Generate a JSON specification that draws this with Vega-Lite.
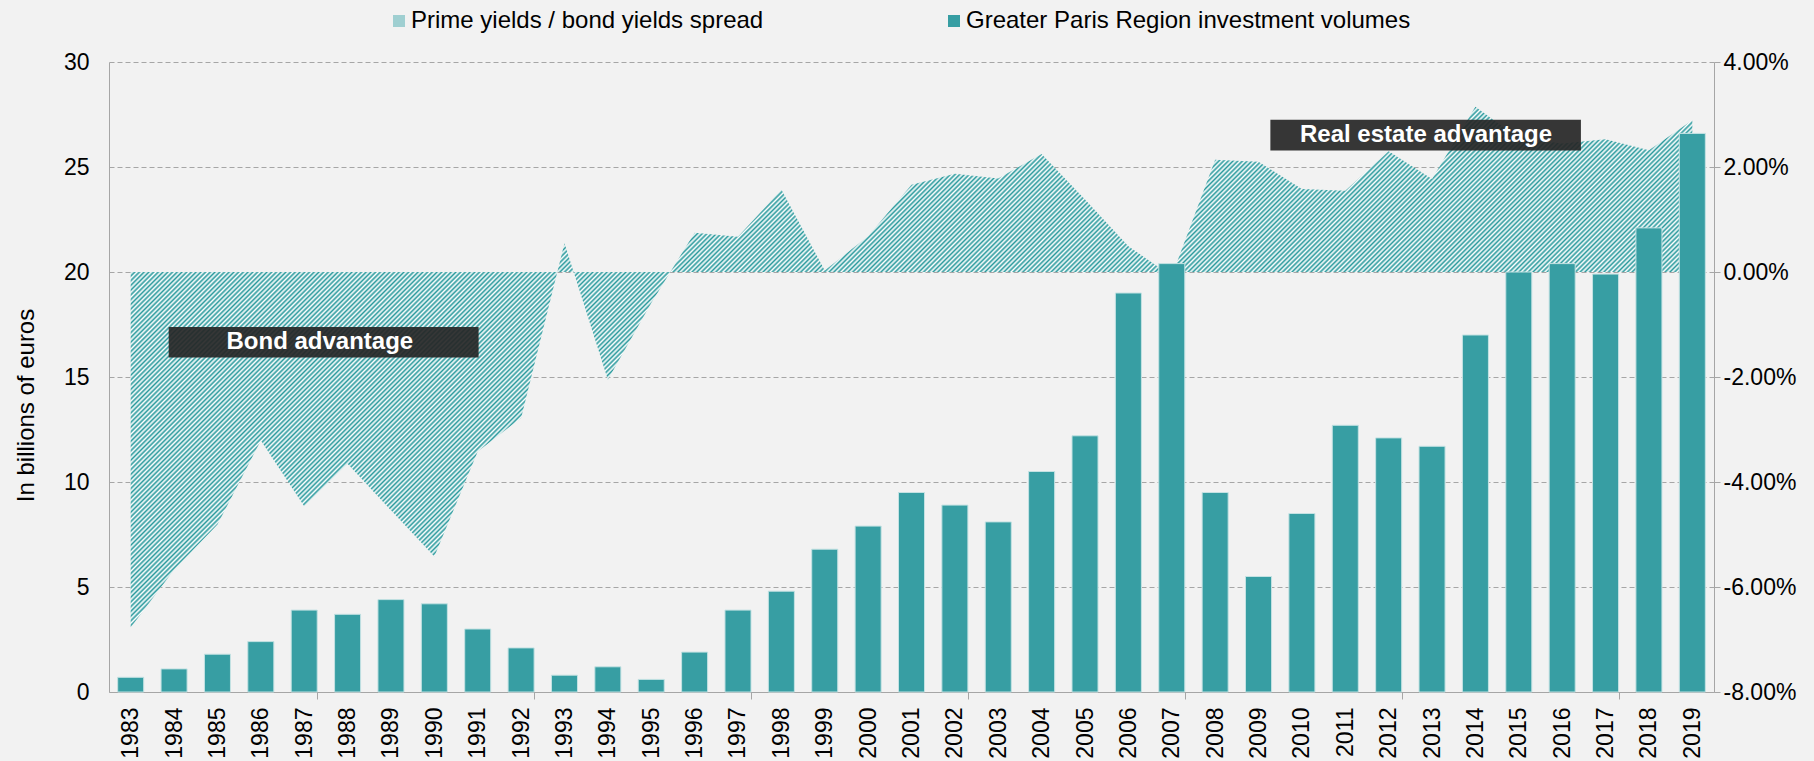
{
  "$schema": "https://vega.github.io/schema/vega-lite/v6.json",
  "width": 1605,
  "height": 630,
  "autosize": {"type": "none"},
  "padding": {"left": 109, "top": 62, "right": 100, "bottom": 69},
  "background": "#f2f2f2",
  "config": {
    "view": {"stroke": null},
    "font": "Liberation Sans",
    "locale": {"number": {"decimal": ".", "thousands": ",", "grouping": [3], "currency": ["$", ""], "minus": "-"}},
    "axis": {
      "labelFont": "Liberation Sans",
      "labelFontSize": 23,
      "labelColor": "#000000",
      "titleFont": "Liberation Sans",
      "titleFontSize": 24,
      "titleFontWeight": "normal",
      "titleColor": "#000000",
      "domainColor": "#a6a6a6",
      "tickColor": "#a6a6a6",
      "gridColor": "#a6a6a6",
      "gridDash": [5, 3]
    }
  },
  "data": {
    "values": [
      {"year": 1983, "volume": 0.7, "spread": -6.77},
      {"year": 1984, "volume": 1.1, "spread": -5.67},
      {"year": 1985, "volume": 1.8, "spread": -4.81},
      {"year": 1986, "volume": 2.4, "spread": -3.21},
      {"year": 1987, "volume": 3.9, "spread": -4.46},
      {"year": 1988, "volume": 3.7, "spread": -3.65},
      {"year": 1989, "volume": 4.4, "spread": -4.54},
      {"year": 1990, "volume": 4.2, "spread": -5.42},
      {"year": 1991, "volume": 3.0, "spread": -3.42},
      {"year": 1992, "volume": 2.1, "spread": -2.78},
      {"year": 1993, "volume": 0.8, "spread": 0.55},
      {"year": 1994, "volume": 1.2, "spread": -2.05},
      {"year": 1995, "volume": 0.6, "spread": -0.59},
      {"year": 1996, "volume": 1.9, "spread": 0.75},
      {"year": 1997, "volume": 3.9, "spread": 0.67},
      {"year": 1998, "volume": 4.8, "spread": 1.57},
      {"year": 1999, "volume": 6.8, "spread": 0.03},
      {"year": 2000, "volume": 7.9, "spread": 0.68},
      {"year": 2001, "volume": 9.5, "spread": 1.66},
      {"year": 2002, "volume": 8.9, "spread": 1.87},
      {"year": 2003, "volume": 8.1, "spread": 1.78},
      {"year": 2004, "volume": 10.5, "spread": 2.25},
      {"year": 2005, "volume": 12.2, "spread": 1.38},
      {"year": 2006, "volume": 19.0, "spread": 0.49},
      {"year": 2007, "volume": 20.4, "spread": -0.08},
      {"year": 2008, "volume": 9.5, "spread": 2.14},
      {"year": 2009, "volume": 5.5, "spread": 2.10},
      {"year": 2010, "volume": 8.5, "spread": 1.58},
      {"year": 2011, "volume": 12.7, "spread": 1.55},
      {"year": 2012, "volume": 12.1, "spread": 2.30},
      {"year": 2013, "volume": 11.7, "spread": 1.77},
      {"year": 2014, "volume": 17.0, "spread": 3.15},
      {"year": 2015, "volume": 20.0, "spread": 2.55},
      {"year": 2016, "volume": 20.4, "spread": 2.45},
      {"year": 2017, "volume": 19.9, "spread": 2.53},
      {"year": 2018, "volume": 22.1, "spread": 2.32},
      {"year": 2019, "volume": 26.6, "spread": 2.89}
    ]
  },
  "layer": [
    {
      "mark": {
        "type": "area",
        "opacity": 1,
        "fill": {
          "gradient": "linear",
          "x1": 0.0922, "y1": 0.0307, "x2": 0.9996, "y2": 0.3333,
          "stops": [
{"offset":0,"color":"#2b9a9d"},{"offset":0.0015,"color":"#fff"},{"offset":0.003,"color":"#2b9a9d"},{"offset":0.0045,"color":"#fff"},{"offset":0.006,"color":"#2b9a9d"},{"offset":0.0075,"color":"#fff"},{"offset":0.009,"color":"#2b9a9d"},{"offset":0.0105,"color":"#fff"},{"offset":0.012,"color":"#2b9a9d"},{"offset":0.0135,"color":"#fff"},{"offset":0.015,"color":"#2b9a9d"},{"offset":0.0165,"color":"#fff"},{"offset":0.018,"color":"#2b9a9d"},{"offset":0.0195,"color":"#fff"},{"offset":0.021,"color":"#2b9a9d"},{"offset":0.0225,"color":"#fff"},{"offset":0.024,"color":"#2b9a9d"},{"offset":0.0255,"color":"#fff"},{"offset":0.027,"color":"#2b9a9d"},{"offset":0.0285,"color":"#fff"},
{"offset":0.03,"color":"#2b9a9d"},{"offset":0.0315,"color":"#fff"},{"offset":0.033,"color":"#2b9a9d"},{"offset":0.0345,"color":"#fff"},{"offset":0.036,"color":"#2b9a9d"},{"offset":0.0375,"color":"#fff"},{"offset":0.039,"color":"#2b9a9d"},{"offset":0.0405,"color":"#fff"},{"offset":0.042,"color":"#2b9a9d"},{"offset":0.0435,"color":"#fff"},{"offset":0.045,"color":"#2b9a9d"},{"offset":0.0465,"color":"#fff"},{"offset":0.048,"color":"#2b9a9d"},{"offset":0.0495,"color":"#fff"},{"offset":0.051,"color":"#2b9a9d"},{"offset":0.0525,"color":"#fff"},{"offset":0.054,"color":"#2b9a9d"},{"offset":0.0555,"color":"#fff"},{"offset":0.057,"color":"#2b9a9d"},{"offset":0.0585,"color":"#fff"},
{"offset":0.06,"color":"#2b9a9d"},{"offset":0.0615,"color":"#fff"},{"offset":0.063,"color":"#2b9a9d"},{"offset":0.0645,"color":"#fff"},{"offset":0.066,"color":"#2b9a9d"},{"offset":0.0675,"color":"#fff"},{"offset":0.069,"color":"#2b9a9d"},{"offset":0.0705,"color":"#fff"},{"offset":0.072,"color":"#2b9a9d"},{"offset":0.0735,"color":"#fff"},{"offset":0.075,"color":"#2b9a9d"},{"offset":0.0765,"color":"#fff"},{"offset":0.078,"color":"#2b9a9d"},{"offset":0.0795,"color":"#fff"},{"offset":0.081,"color":"#2b9a9d"},{"offset":0.0825,"color":"#fff"},{"offset":0.084,"color":"#2b9a9d"},{"offset":0.0855,"color":"#fff"},{"offset":0.087,"color":"#2b9a9d"},{"offset":0.0885,"color":"#fff"},
{"offset":0.09,"color":"#2b9a9d"},{"offset":0.0915,"color":"#fff"},{"offset":0.093,"color":"#2b9a9d"},{"offset":0.0945,"color":"#fff"},{"offset":0.096,"color":"#2b9a9d"},{"offset":0.0975,"color":"#fff"},{"offset":0.099,"color":"#2b9a9d"},{"offset":0.1005,"color":"#fff"},{"offset":0.102,"color":"#2b9a9d"},{"offset":0.1035,"color":"#fff"},{"offset":0.105,"color":"#2b9a9d"},{"offset":0.1065,"color":"#fff"},{"offset":0.108,"color":"#2b9a9d"},{"offset":0.1095,"color":"#fff"},{"offset":0.111,"color":"#2b9a9d"},{"offset":0.1125,"color":"#fff"},{"offset":0.114,"color":"#2b9a9d"},{"offset":0.1155,"color":"#fff"},{"offset":0.117,"color":"#2b9a9d"},{"offset":0.1185,"color":"#fff"},
{"offset":0.12,"color":"#2b9a9d"},{"offset":0.1215,"color":"#fff"},{"offset":0.123,"color":"#2b9a9d"},{"offset":0.1245,"color":"#fff"},{"offset":0.126,"color":"#2b9a9d"},{"offset":0.1275,"color":"#fff"},{"offset":0.129,"color":"#2b9a9d"},{"offset":0.1305,"color":"#fff"},{"offset":0.132,"color":"#2b9a9d"},{"offset":0.1335,"color":"#fff"},{"offset":0.135,"color":"#2b9a9d"},{"offset":0.1365,"color":"#fff"},{"offset":0.138,"color":"#2b9a9d"},{"offset":0.1395,"color":"#fff"},{"offset":0.141,"color":"#2b9a9d"},{"offset":0.1425,"color":"#fff"},{"offset":0.144,"color":"#2b9a9d"},{"offset":0.1455,"color":"#fff"},{"offset":0.147,"color":"#2b9a9d"},{"offset":0.1485,"color":"#fff"},
{"offset":0.15,"color":"#2b9a9d"},{"offset":0.1515,"color":"#fff"},{"offset":0.153,"color":"#2b9a9d"},{"offset":0.1545,"color":"#fff"},{"offset":0.156,"color":"#2b9a9d"},{"offset":0.1575,"color":"#fff"},{"offset":0.159,"color":"#2b9a9d"},{"offset":0.1605,"color":"#fff"},{"offset":0.162,"color":"#2b9a9d"},{"offset":0.1635,"color":"#fff"},{"offset":0.165,"color":"#2b9a9d"},{"offset":0.1665,"color":"#fff"},{"offset":0.168,"color":"#2b9a9d"},{"offset":0.1695,"color":"#fff"},{"offset":0.171,"color":"#2b9a9d"},{"offset":0.1725,"color":"#fff"},{"offset":0.174,"color":"#2b9a9d"},{"offset":0.1755,"color":"#fff"},{"offset":0.177,"color":"#2b9a9d"},{"offset":0.1785,"color":"#fff"},
{"offset":0.18,"color":"#2b9a9d"},{"offset":0.1815,"color":"#fff"},{"offset":0.183,"color":"#2b9a9d"},{"offset":0.1845,"color":"#fff"},{"offset":0.186,"color":"#2b9a9d"},{"offset":0.1875,"color":"#fff"},{"offset":0.189,"color":"#2b9a9d"},{"offset":0.1905,"color":"#fff"},{"offset":0.192,"color":"#2b9a9d"},{"offset":0.1935,"color":"#fff"},{"offset":0.195,"color":"#2b9a9d"},{"offset":0.1965,"color":"#fff"},{"offset":0.198,"color":"#2b9a9d"},{"offset":0.1995,"color":"#fff"},{"offset":0.201,"color":"#2b9a9d"},{"offset":0.2025,"color":"#fff"},{"offset":0.204,"color":"#2b9a9d"},{"offset":0.2055,"color":"#fff"},{"offset":0.207,"color":"#2b9a9d"},{"offset":0.2085,"color":"#fff"},
{"offset":0.21,"color":"#2b9a9d"},{"offset":0.2115,"color":"#fff"},{"offset":0.213,"color":"#2b9a9d"},{"offset":0.2145,"color":"#fff"},{"offset":0.216,"color":"#2b9a9d"},{"offset":0.2175,"color":"#fff"},{"offset":0.219,"color":"#2b9a9d"},{"offset":0.2205,"color":"#fff"},{"offset":0.222,"color":"#2b9a9d"},{"offset":0.2235,"color":"#fff"},{"offset":0.225,"color":"#2b9a9d"},{"offset":0.2265,"color":"#fff"},{"offset":0.228,"color":"#2b9a9d"},{"offset":0.2295,"color":"#fff"},{"offset":0.231,"color":"#2b9a9d"},{"offset":0.2325,"color":"#fff"},{"offset":0.234,"color":"#2b9a9d"},{"offset":0.2355,"color":"#fff"},{"offset":0.237,"color":"#2b9a9d"},{"offset":0.2385,"color":"#fff"},
{"offset":0.24,"color":"#2b9a9d"},{"offset":0.2415,"color":"#fff"},{"offset":0.243,"color":"#2b9a9d"},{"offset":0.2445,"color":"#fff"},{"offset":0.246,"color":"#2b9a9d"},{"offset":0.2475,"color":"#fff"},{"offset":0.249,"color":"#2b9a9d"},{"offset":0.2505,"color":"#fff"},{"offset":0.252,"color":"#2b9a9d"},{"offset":0.2535,"color":"#fff"},{"offset":0.255,"color":"#2b9a9d"},{"offset":0.2565,"color":"#fff"},{"offset":0.258,"color":"#2b9a9d"},{"offset":0.2595,"color":"#fff"},{"offset":0.261,"color":"#2b9a9d"},{"offset":0.2625,"color":"#fff"},{"offset":0.264,"color":"#2b9a9d"},{"offset":0.2655,"color":"#fff"},{"offset":0.267,"color":"#2b9a9d"},{"offset":0.2685,"color":"#fff"},
{"offset":0.27,"color":"#2b9a9d"},{"offset":0.2715,"color":"#fff"},{"offset":0.273,"color":"#2b9a9d"},{"offset":0.2745,"color":"#fff"},{"offset":0.276,"color":"#2b9a9d"},{"offset":0.2775,"color":"#fff"},{"offset":0.279,"color":"#2b9a9d"},{"offset":0.2805,"color":"#fff"},{"offset":0.282,"color":"#2b9a9d"},{"offset":0.2835,"color":"#fff"},{"offset":0.285,"color":"#2b9a9d"},{"offset":0.2865,"color":"#fff"},{"offset":0.288,"color":"#2b9a9d"},{"offset":0.2895,"color":"#fff"},{"offset":0.291,"color":"#2b9a9d"},{"offset":0.2925,"color":"#fff"},{"offset":0.294,"color":"#2b9a9d"},{"offset":0.2955,"color":"#fff"},{"offset":0.297,"color":"#2b9a9d"},{"offset":0.2985,"color":"#fff"},
{"offset":0.3,"color":"#2b9a9d"},{"offset":0.3015,"color":"#fff"},{"offset":0.303,"color":"#2b9a9d"},{"offset":0.3045,"color":"#fff"},{"offset":0.306,"color":"#2b9a9d"},{"offset":0.3075,"color":"#fff"},{"offset":0.309,"color":"#2b9a9d"},{"offset":0.3105,"color":"#fff"},{"offset":0.312,"color":"#2b9a9d"},{"offset":0.3135,"color":"#fff"},{"offset":0.315,"color":"#2b9a9d"},{"offset":0.3165,"color":"#fff"},{"offset":0.318,"color":"#2b9a9d"},{"offset":0.3195,"color":"#fff"},{"offset":0.321,"color":"#2b9a9d"},{"offset":0.3225,"color":"#fff"},{"offset":0.324,"color":"#2b9a9d"},{"offset":0.3255,"color":"#fff"},{"offset":0.327,"color":"#2b9a9d"},{"offset":0.3285,"color":"#fff"},
{"offset":0.33,"color":"#2b9a9d"},{"offset":0.3315,"color":"#fff"},{"offset":0.333,"color":"#2b9a9d"},{"offset":0.3345,"color":"#fff"},{"offset":0.336,"color":"#2b9a9d"},{"offset":0.3375,"color":"#fff"},{"offset":0.339,"color":"#2b9a9d"},{"offset":0.3405,"color":"#fff"},{"offset":0.342,"color":"#2b9a9d"},{"offset":0.3435,"color":"#fff"},{"offset":0.345,"color":"#2b9a9d"},{"offset":0.3465,"color":"#fff"},{"offset":0.348,"color":"#2b9a9d"},{"offset":0.3495,"color":"#fff"},{"offset":0.351,"color":"#2b9a9d"},{"offset":0.3525,"color":"#fff"},{"offset":0.354,"color":"#2b9a9d"},{"offset":0.3555,"color":"#fff"},{"offset":0.357,"color":"#2b9a9d"},{"offset":0.3585,"color":"#fff"},
{"offset":0.36,"color":"#2b9a9d"},{"offset":0.3615,"color":"#fff"},{"offset":0.363,"color":"#2b9a9d"},{"offset":0.3645,"color":"#fff"},{"offset":0.366,"color":"#2b9a9d"},{"offset":0.3675,"color":"#fff"},{"offset":0.369,"color":"#2b9a9d"},{"offset":0.3705,"color":"#fff"},{"offset":0.372,"color":"#2b9a9d"},{"offset":0.3735,"color":"#fff"},{"offset":0.375,"color":"#2b9a9d"},{"offset":0.3765,"color":"#fff"},{"offset":0.378,"color":"#2b9a9d"},{"offset":0.3795,"color":"#fff"},{"offset":0.381,"color":"#2b9a9d"},{"offset":0.3825,"color":"#fff"},{"offset":0.384,"color":"#2b9a9d"},{"offset":0.3855,"color":"#fff"},{"offset":0.387,"color":"#2b9a9d"},{"offset":0.3885,"color":"#fff"},
{"offset":0.39,"color":"#2b9a9d"},{"offset":0.3915,"color":"#fff"},{"offset":0.393,"color":"#2b9a9d"},{"offset":0.3945,"color":"#fff"},{"offset":0.396,"color":"#2b9a9d"},{"offset":0.3975,"color":"#fff"},{"offset":0.399,"color":"#2b9a9d"},{"offset":0.4005,"color":"#fff"},{"offset":0.402,"color":"#2b9a9d"},{"offset":0.4035,"color":"#fff"},{"offset":0.405,"color":"#2b9a9d"},{"offset":0.4065,"color":"#fff"},{"offset":0.408,"color":"#2b9a9d"},{"offset":0.4095,"color":"#fff"},{"offset":0.411,"color":"#2b9a9d"},{"offset":0.4125,"color":"#fff"},{"offset":0.414,"color":"#2b9a9d"},{"offset":0.4155,"color":"#fff"},{"offset":0.417,"color":"#2b9a9d"},{"offset":0.4185,"color":"#fff"},
{"offset":0.42,"color":"#2b9a9d"},{"offset":0.4215,"color":"#fff"},{"offset":0.423,"color":"#2b9a9d"},{"offset":0.4245,"color":"#fff"},{"offset":0.426,"color":"#2b9a9d"},{"offset":0.4275,"color":"#fff"},{"offset":0.429,"color":"#2b9a9d"},{"offset":0.4305,"color":"#fff"},{"offset":0.432,"color":"#2b9a9d"},{"offset":0.4335,"color":"#fff"},{"offset":0.435,"color":"#2b9a9d"},{"offset":0.4365,"color":"#fff"},{"offset":0.438,"color":"#2b9a9d"},{"offset":0.4395,"color":"#fff"},{"offset":0.441,"color":"#2b9a9d"},{"offset":0.4425,"color":"#fff"},{"offset":0.444,"color":"#2b9a9d"},{"offset":0.4455,"color":"#fff"},{"offset":0.447,"color":"#2b9a9d"},{"offset":0.4485,"color":"#fff"},
{"offset":0.45,"color":"#2b9a9d"},{"offset":0.4515,"color":"#fff"},{"offset":0.453,"color":"#2b9a9d"},{"offset":0.4545,"color":"#fff"},{"offset":0.456,"color":"#2b9a9d"},{"offset":0.4575,"color":"#fff"},{"offset":0.459,"color":"#2b9a9d"},{"offset":0.4605,"color":"#fff"},{"offset":0.462,"color":"#2b9a9d"},{"offset":0.4635,"color":"#fff"},{"offset":0.465,"color":"#2b9a9d"},{"offset":0.4665,"color":"#fff"},{"offset":0.468,"color":"#2b9a9d"},{"offset":0.4695,"color":"#fff"},{"offset":0.471,"color":"#2b9a9d"},{"offset":0.4725,"color":"#fff"},{"offset":0.474,"color":"#2b9a9d"},{"offset":0.4755,"color":"#fff"},{"offset":0.477,"color":"#2b9a9d"},{"offset":0.4785,"color":"#fff"},
{"offset":0.48,"color":"#2b9a9d"},{"offset":0.4815,"color":"#fff"},{"offset":0.483,"color":"#2b9a9d"},{"offset":0.4845,"color":"#fff"},{"offset":0.486,"color":"#2b9a9d"},{"offset":0.4875,"color":"#fff"},{"offset":0.489,"color":"#2b9a9d"},{"offset":0.4905,"color":"#fff"},{"offset":0.492,"color":"#2b9a9d"},{"offset":0.4935,"color":"#fff"},{"offset":0.495,"color":"#2b9a9d"},{"offset":0.4965,"color":"#fff"},{"offset":0.498,"color":"#2b9a9d"},{"offset":0.4995,"color":"#fff"},{"offset":0.501,"color":"#2b9a9d"},{"offset":0.5025,"color":"#fff"},{"offset":0.504,"color":"#2b9a9d"},{"offset":0.5055,"color":"#fff"},{"offset":0.507,"color":"#2b9a9d"},{"offset":0.5085,"color":"#fff"},
{"offset":0.51,"color":"#2b9a9d"},{"offset":0.5115,"color":"#fff"},{"offset":0.513,"color":"#2b9a9d"},{"offset":0.5145,"color":"#fff"},{"offset":0.516,"color":"#2b9a9d"},{"offset":0.5175,"color":"#fff"},{"offset":0.519,"color":"#2b9a9d"},{"offset":0.5205,"color":"#fff"},{"offset":0.522,"color":"#2b9a9d"},{"offset":0.5235,"color":"#fff"},{"offset":0.525,"color":"#2b9a9d"},{"offset":0.5265,"color":"#fff"},{"offset":0.528,"color":"#2b9a9d"},{"offset":0.5295,"color":"#fff"},{"offset":0.531,"color":"#2b9a9d"},{"offset":0.5325,"color":"#fff"},{"offset":0.534,"color":"#2b9a9d"},{"offset":0.5355,"color":"#fff"},{"offset":0.537,"color":"#2b9a9d"},{"offset":0.5385,"color":"#fff"},
{"offset":0.54,"color":"#2b9a9d"},{"offset":0.5415,"color":"#fff"},{"offset":0.543,"color":"#2b9a9d"},{"offset":0.5445,"color":"#fff"},{"offset":0.546,"color":"#2b9a9d"},{"offset":0.5475,"color":"#fff"},{"offset":0.549,"color":"#2b9a9d"},{"offset":0.5505,"color":"#fff"},{"offset":0.552,"color":"#2b9a9d"},{"offset":0.5535,"color":"#fff"},{"offset":0.555,"color":"#2b9a9d"},{"offset":0.5565,"color":"#fff"},{"offset":0.558,"color":"#2b9a9d"},{"offset":0.5595,"color":"#fff"},{"offset":0.561,"color":"#2b9a9d"},{"offset":0.5625,"color":"#fff"},{"offset":0.564,"color":"#2b9a9d"},{"offset":0.5655,"color":"#fff"},{"offset":0.567,"color":"#2b9a9d"},{"offset":0.5685,"color":"#fff"},
{"offset":0.57,"color":"#2b9a9d"},{"offset":0.5715,"color":"#fff"},{"offset":0.573,"color":"#2b9a9d"},{"offset":0.5745,"color":"#fff"},{"offset":0.576,"color":"#2b9a9d"},{"offset":0.5775,"color":"#fff"},{"offset":0.579,"color":"#2b9a9d"},{"offset":0.5805,"color":"#fff"},{"offset":0.582,"color":"#2b9a9d"},{"offset":0.5835,"color":"#fff"},{"offset":0.585,"color":"#2b9a9d"},{"offset":0.5865,"color":"#fff"},{"offset":0.588,"color":"#2b9a9d"},{"offset":0.5895,"color":"#fff"},{"offset":0.591,"color":"#2b9a9d"},{"offset":0.5925,"color":"#fff"},{"offset":0.594,"color":"#2b9a9d"},{"offset":0.5955,"color":"#fff"},{"offset":0.597,"color":"#2b9a9d"},{"offset":0.5985,"color":"#fff"},
{"offset":0.6,"color":"#2b9a9d"},{"offset":0.6015,"color":"#fff"},{"offset":0.603,"color":"#2b9a9d"},{"offset":0.6045,"color":"#fff"},{"offset":0.606,"color":"#2b9a9d"},{"offset":0.6075,"color":"#fff"},{"offset":0.609,"color":"#2b9a9d"},{"offset":0.6105,"color":"#fff"},{"offset":0.612,"color":"#2b9a9d"},{"offset":0.6135,"color":"#fff"},{"offset":0.615,"color":"#2b9a9d"},{"offset":0.6165,"color":"#fff"},{"offset":0.618,"color":"#2b9a9d"},{"offset":0.6195,"color":"#fff"},{"offset":0.621,"color":"#2b9a9d"},{"offset":0.6225,"color":"#fff"},{"offset":0.624,"color":"#2b9a9d"},{"offset":0.6255,"color":"#fff"},{"offset":0.627,"color":"#2b9a9d"},{"offset":0.6285,"color":"#fff"},
{"offset":0.63,"color":"#2b9a9d"},{"offset":0.6315,"color":"#fff"},{"offset":0.633,"color":"#2b9a9d"},{"offset":0.6345,"color":"#fff"},{"offset":0.636,"color":"#2b9a9d"},{"offset":0.6375,"color":"#fff"},{"offset":0.639,"color":"#2b9a9d"},{"offset":0.6405,"color":"#fff"},{"offset":0.642,"color":"#2b9a9d"},{"offset":0.6435,"color":"#fff"},{"offset":0.645,"color":"#2b9a9d"},{"offset":0.6465,"color":"#fff"},{"offset":0.648,"color":"#2b9a9d"},{"offset":0.6495,"color":"#fff"},{"offset":0.651,"color":"#2b9a9d"},{"offset":0.6525,"color":"#fff"},{"offset":0.654,"color":"#2b9a9d"},{"offset":0.6555,"color":"#fff"},{"offset":0.657,"color":"#2b9a9d"},{"offset":0.6585,"color":"#fff"},
{"offset":0.66,"color":"#2b9a9d"},{"offset":0.6615,"color":"#fff"},{"offset":0.663,"color":"#2b9a9d"},{"offset":0.6645,"color":"#fff"},{"offset":0.666,"color":"#2b9a9d"},{"offset":0.6675,"color":"#fff"},{"offset":0.669,"color":"#2b9a9d"},{"offset":0.6705,"color":"#fff"},{"offset":0.672,"color":"#2b9a9d"},{"offset":0.6735,"color":"#fff"},{"offset":0.675,"color":"#2b9a9d"},{"offset":0.6765,"color":"#fff"},{"offset":0.678,"color":"#2b9a9d"},{"offset":0.6795,"color":"#fff"},{"offset":0.681,"color":"#2b9a9d"},{"offset":0.6825,"color":"#fff"},{"offset":0.684,"color":"#2b9a9d"},{"offset":0.6855,"color":"#fff"},{"offset":0.687,"color":"#2b9a9d"},{"offset":0.6885,"color":"#fff"},
{"offset":0.69,"color":"#2b9a9d"},{"offset":0.6915,"color":"#fff"},{"offset":0.693,"color":"#2b9a9d"},{"offset":0.6945,"color":"#fff"},{"offset":0.696,"color":"#2b9a9d"},{"offset":0.6975,"color":"#fff"},{"offset":0.699,"color":"#2b9a9d"},{"offset":0.7005,"color":"#fff"},{"offset":0.702,"color":"#2b9a9d"},{"offset":0.7035,"color":"#fff"},{"offset":0.705,"color":"#2b9a9d"},{"offset":0.7065,"color":"#fff"},{"offset":0.708,"color":"#2b9a9d"},{"offset":0.7095,"color":"#fff"},{"offset":0.711,"color":"#2b9a9d"},{"offset":0.7125,"color":"#fff"},{"offset":0.714,"color":"#2b9a9d"},{"offset":0.7155,"color":"#fff"},{"offset":0.717,"color":"#2b9a9d"},{"offset":0.7185,"color":"#fff"},
{"offset":0.72,"color":"#2b9a9d"},{"offset":0.7215,"color":"#fff"},{"offset":0.723,"color":"#2b9a9d"},{"offset":0.7245,"color":"#fff"},{"offset":0.726,"color":"#2b9a9d"},{"offset":0.7275,"color":"#fff"},{"offset":0.729,"color":"#2b9a9d"},{"offset":0.7305,"color":"#fff"},{"offset":0.732,"color":"#2b9a9d"},{"offset":0.7335,"color":"#fff"},{"offset":0.735,"color":"#2b9a9d"},{"offset":0.7365,"color":"#fff"},{"offset":0.738,"color":"#2b9a9d"},{"offset":0.7395,"color":"#fff"},{"offset":0.741,"color":"#2b9a9d"},{"offset":0.7425,"color":"#fff"},{"offset":0.744,"color":"#2b9a9d"},{"offset":0.7455,"color":"#fff"},{"offset":0.747,"color":"#2b9a9d"},{"offset":0.7485,"color":"#fff"},
{"offset":0.75,"color":"#2b9a9d"},{"offset":0.7515,"color":"#fff"},{"offset":0.753,"color":"#2b9a9d"},{"offset":0.7545,"color":"#fff"},{"offset":0.756,"color":"#2b9a9d"},{"offset":0.7575,"color":"#fff"},{"offset":0.759,"color":"#2b9a9d"},{"offset":0.7605,"color":"#fff"},{"offset":0.762,"color":"#2b9a9d"},{"offset":0.7635,"color":"#fff"},{"offset":0.765,"color":"#2b9a9d"},{"offset":0.7665,"color":"#fff"},{"offset":0.768,"color":"#2b9a9d"},{"offset":0.7695,"color":"#fff"},{"offset":0.771,"color":"#2b9a9d"},{"offset":0.7725,"color":"#fff"},{"offset":0.774,"color":"#2b9a9d"},{"offset":0.7755,"color":"#fff"},{"offset":0.777,"color":"#2b9a9d"},{"offset":0.7785,"color":"#fff"},
{"offset":0.78,"color":"#2b9a9d"},{"offset":0.7815,"color":"#fff"},{"offset":0.783,"color":"#2b9a9d"},{"offset":0.7845,"color":"#fff"},{"offset":0.786,"color":"#2b9a9d"},{"offset":0.7875,"color":"#fff"},{"offset":0.789,"color":"#2b9a9d"},{"offset":0.7905,"color":"#fff"},{"offset":0.792,"color":"#2b9a9d"},{"offset":0.7935,"color":"#fff"},{"offset":0.795,"color":"#2b9a9d"},{"offset":0.7965,"color":"#fff"},{"offset":0.798,"color":"#2b9a9d"},{"offset":0.7995,"color":"#fff"},{"offset":0.801,"color":"#2b9a9d"},{"offset":0.8025,"color":"#fff"},{"offset":0.804,"color":"#2b9a9d"},{"offset":0.8055,"color":"#fff"},{"offset":0.807,"color":"#2b9a9d"},{"offset":0.8085,"color":"#fff"},
{"offset":0.81,"color":"#2b9a9d"},{"offset":0.8115,"color":"#fff"},{"offset":0.813,"color":"#2b9a9d"},{"offset":0.8145,"color":"#fff"},{"offset":0.816,"color":"#2b9a9d"},{"offset":0.8175,"color":"#fff"},{"offset":0.819,"color":"#2b9a9d"},{"offset":0.8205,"color":"#fff"},{"offset":0.822,"color":"#2b9a9d"},{"offset":0.8235,"color":"#fff"},{"offset":0.825,"color":"#2b9a9d"},{"offset":0.8265,"color":"#fff"},{"offset":0.828,"color":"#2b9a9d"},{"offset":0.8295,"color":"#fff"},{"offset":0.831,"color":"#2b9a9d"},{"offset":0.8325,"color":"#fff"},{"offset":0.834,"color":"#2b9a9d"},{"offset":0.8355,"color":"#fff"},{"offset":0.837,"color":"#2b9a9d"},{"offset":0.8385,"color":"#fff"},
{"offset":0.84,"color":"#2b9a9d"},{"offset":0.8415,"color":"#fff"},{"offset":0.843,"color":"#2b9a9d"},{"offset":0.8445,"color":"#fff"},{"offset":0.846,"color":"#2b9a9d"},{"offset":0.8475,"color":"#fff"},{"offset":0.849,"color":"#2b9a9d"},{"offset":0.8505,"color":"#fff"},{"offset":0.852,"color":"#2b9a9d"},{"offset":0.8535,"color":"#fff"},{"offset":0.855,"color":"#2b9a9d"},{"offset":0.8565,"color":"#fff"},{"offset":0.858,"color":"#2b9a9d"},{"offset":0.8595,"color":"#fff"},{"offset":0.861,"color":"#2b9a9d"},{"offset":0.8625,"color":"#fff"},{"offset":0.864,"color":"#2b9a9d"},{"offset":0.8655,"color":"#fff"},{"offset":0.867,"color":"#2b9a9d"},{"offset":0.8685,"color":"#fff"},
{"offset":0.87,"color":"#2b9a9d"},{"offset":0.8715,"color":"#fff"},{"offset":0.873,"color":"#2b9a9d"},{"offset":0.8745,"color":"#fff"},{"offset":0.876,"color":"#2b9a9d"},{"offset":0.8775,"color":"#fff"},{"offset":0.879,"color":"#2b9a9d"},{"offset":0.8805,"color":"#fff"},{"offset":0.882,"color":"#2b9a9d"},{"offset":0.8835,"color":"#fff"},{"offset":0.885,"color":"#2b9a9d"},{"offset":0.8865,"color":"#fff"},{"offset":0.888,"color":"#2b9a9d"},{"offset":0.8895,"color":"#fff"},{"offset":0.891,"color":"#2b9a9d"},{"offset":0.8925,"color":"#fff"},{"offset":0.894,"color":"#2b9a9d"},{"offset":0.8955,"color":"#fff"},{"offset":0.897,"color":"#2b9a9d"},{"offset":0.8985,"color":"#fff"},
{"offset":0.9,"color":"#2b9a9d"},{"offset":0.9015,"color":"#fff"},{"offset":0.903,"color":"#2b9a9d"},{"offset":0.9045,"color":"#fff"},{"offset":0.906,"color":"#2b9a9d"},{"offset":0.9075,"color":"#fff"},{"offset":0.909,"color":"#2b9a9d"},{"offset":0.9105,"color":"#fff"},{"offset":0.912,"color":"#2b9a9d"},{"offset":0.9135,"color":"#fff"},{"offset":0.915,"color":"#2b9a9d"},{"offset":0.9165,"color":"#fff"},{"offset":0.918,"color":"#2b9a9d"},{"offset":0.9195,"color":"#fff"},{"offset":0.921,"color":"#2b9a9d"},{"offset":0.9225,"color":"#fff"},{"offset":0.924,"color":"#2b9a9d"},{"offset":0.9255,"color":"#fff"},{"offset":0.927,"color":"#2b9a9d"},{"offset":0.9285,"color":"#fff"},
{"offset":0.93,"color":"#2b9a9d"},{"offset":0.9315,"color":"#fff"},{"offset":0.933,"color":"#2b9a9d"},{"offset":0.9345,"color":"#fff"},{"offset":0.936,"color":"#2b9a9d"},{"offset":0.9375,"color":"#fff"},{"offset":0.939,"color":"#2b9a9d"},{"offset":0.9405,"color":"#fff"},{"offset":0.942,"color":"#2b9a9d"},{"offset":0.9435,"color":"#fff"},{"offset":0.945,"color":"#2b9a9d"},{"offset":0.9465,"color":"#fff"},{"offset":0.948,"color":"#2b9a9d"},{"offset":0.9495,"color":"#fff"},{"offset":0.951,"color":"#2b9a9d"},{"offset":0.9525,"color":"#fff"},{"offset":0.954,"color":"#2b9a9d"},{"offset":0.9555,"color":"#fff"},{"offset":0.957,"color":"#2b9a9d"},{"offset":0.9585,"color":"#fff"},
{"offset":0.96,"color":"#2b9a9d"},{"offset":0.9615,"color":"#fff"},{"offset":0.963,"color":"#2b9a9d"},{"offset":0.9645,"color":"#fff"},{"offset":0.966,"color":"#2b9a9d"},{"offset":0.9675,"color":"#fff"},{"offset":0.969,"color":"#2b9a9d"},{"offset":0.9705,"color":"#fff"},{"offset":0.972,"color":"#2b9a9d"},{"offset":0.9735,"color":"#fff"},{"offset":0.975,"color":"#2b9a9d"},{"offset":0.9765,"color":"#fff"},{"offset":0.978,"color":"#2b9a9d"},{"offset":0.9795,"color":"#fff"},{"offset":0.981,"color":"#2b9a9d"},{"offset":0.9825,"color":"#fff"},{"offset":0.984,"color":"#2b9a9d"},{"offset":0.9855,"color":"#fff"},{"offset":0.987,"color":"#2b9a9d"},{"offset":0.9885,"color":"#fff"},
{"offset":0.99,"color":"#2b9a9d"},{"offset":0.9915,"color":"#fff"},{"offset":0.993,"color":"#2b9a9d"},{"offset":0.9945,"color":"#fff"},{"offset":0.996,"color":"#2b9a9d"},{"offset":0.9975,"color":"#fff"},{"offset":0.999,"color":"#2b9a9d"}
          ]
        }
      },
      "encoding": {
        "x": {
          "field": "year",
          "type": "ordinal",
          "title": null,
          "scale": {"paddingInner": 0.4, "paddingOuter": 0.2},
          "axis": {
            "labelAngle": -90,
            "labelPadding": 8,
            "tickBand": "extent",
            "tickSize": 7,
            "tickOpacity": {"condition": {"test": "(datum.value - 1982) % 5 == 0", "value": 1}, "value": 0},
            "domainColor": "#a6a6a6"
          }
        },
        "y": {
          "field": "spread",
          "type": "quantitative",
          "scale": {"domain": [-8, 4], "nice": false},
          "axis": {
            "orient": "right",
            "title": null,
            "values": [-8, -6, -4, -2, 0, 2, 4],
            "labelExpr": "format(datum.value, '.2f') + '%'",
            "grid": false,
            "tickSize": 6,
            "labelPadding": 3
          }
        },
        "y2": {"datum": 0}
      }
    },
    {
      "layer": [
        {
          "mark": {"type": "bar", "stroke": "#c4e2e3", "strokeWidth": 1},
          "encoding": {
            "x": {"field": "year", "type": "ordinal", "title": null},
            "y": {
              "field": "volume",
              "type": "quantitative",
              "scale": {"domain": [0, 30], "nice": false},
              "axis": {
                "orient": "left",
                "title": "In billions of euros",
                "titleX": -83,
                "titleY": 343,
                "titleBaseline": "middle",
                "titleAlign": "center",
                "values": [0, 5, 10, 15, 20, 25, 30],
                "grid": true,
                "ticks": false,
                "tickSize": 0,
                "labelPadding": 20
              }
            },
            "color": {
              "datum": "Greater Paris Region investment volumes",
              "type": "nominal",
              "scale": {
                "domain": ["Prime yields / bond yields spread", "Greater Paris Region investment volumes"],
                "range": ["#9fcfd1", "#379ea3"]
              },
              "legend": {
                "title": null,
                "orient": "none",
                "legendX": 278,
                "legendY": -53,
                "direction": "horizontal",
                "columns": 2,
                "columnPadding": 178,
                "symbolType": "square",
                "symbolSize": 144,
                "symbolStrokeWidth": 0,
                "labelFont": "Liberation Sans",
                "labelFontSize": 24,
                "labelColor": "#000000",
                "labelOffset": 0,
                "labelLimit": 0,
                "padding": 0
              }
            }
          }
        },
        {
          "data": {"values": [{"label": "Bond advantage"}]},
          "mark": {"type": "rect", "fill": "#262626", "opacity": 0.92},
          "encoding": {
            "x": {"datum": 1984, "type": "ordinal", "bandPosition": 0.293},
            "x2": {"datum": 1991, "bandPosition": 0.534},
            "y": {"datum": 17.38, "type": "quantitative"},
            "y2": {"datum": 15.93}
          }
        },
        {
          "data": {"values": [{"label": "Bond advantage"}]},
          "mark": {"type": "text", "color": "#ffffff", "font": "Liberation Sans", "fontWeight": "bold", "fontSize": 24, "align": "center", "baseline": "middle"},
          "encoding": {
            "text": {"field": "label"},
            "x": {"datum": 1987, "type": "ordinal", "bandPosition": 1.1},
            "y": {"datum": 16.66, "type": "quantitative"}
          }
        },
        {
          "data": {"values": [{"label": "Real estate advantage"}]},
          "mark": {"type": "rect", "fill": "#262626", "opacity": 0.92},
          "encoding": {
            "x": {"datum": 2009, "type": "ordinal", "bandPosition": 0.955},
            "x2": {"datum": 2016, "bandPosition": 1.22},
            "y": {"datum": 27.25, "type": "quantitative"},
            "y2": {"datum": 25.79}
          }
        },
        {
          "data": {"values": [{"label": "Real estate advantage"}]},
          "mark": {"type": "text", "color": "#ffffff", "font": "Liberation Sans", "fontWeight": "bold", "fontSize": 24, "align": "center", "baseline": "middle"},
          "encoding": {
            "text": {"field": "label"},
            "x": {"datum": 2013, "type": "ordinal", "bandPosition": 0.27},
            "y": {"datum": 26.52, "type": "quantitative"}
          }
        }
      ]
    }
  ],
  "resolve": {"scale": {"y": "independent"}, "axis": {"y": "independent"}}
}
